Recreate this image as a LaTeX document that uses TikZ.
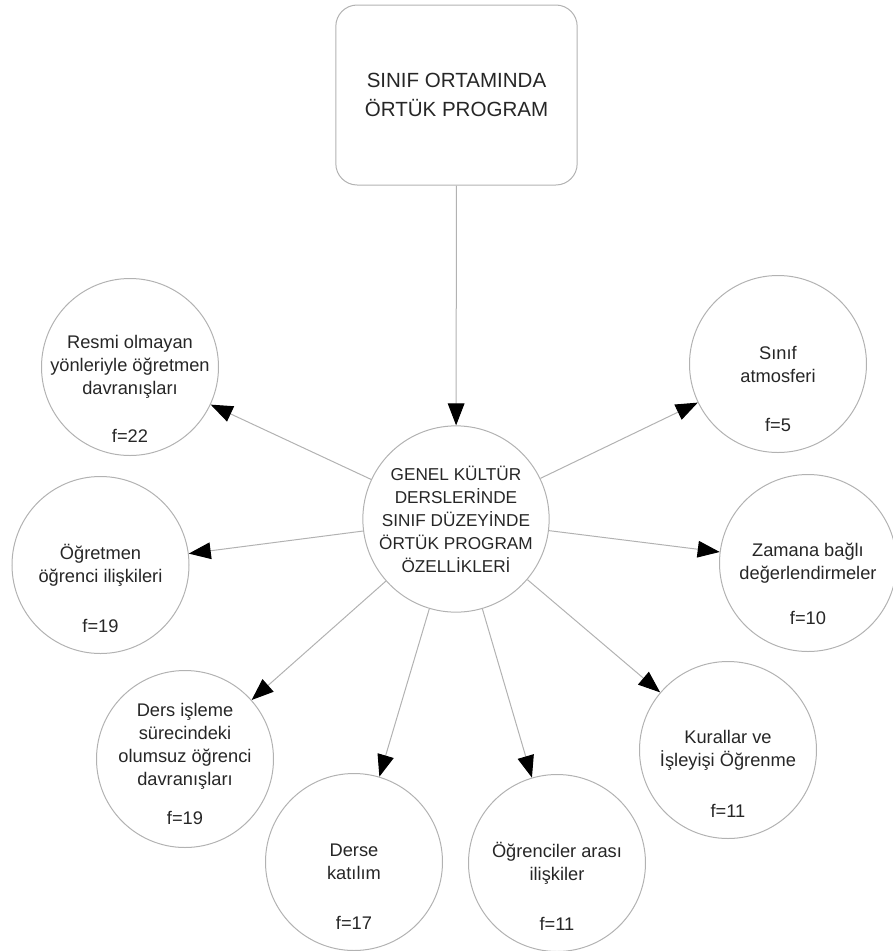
\documentclass[tikz,border=0pt]{standalone}
\usepackage{fontspec}
\setmainfont{Liberation Sans}
\usetikzlibrary{arrows.meta}

\begin{document}
\begin{tikzpicture}
        [
        x=0.75pt, y=-0.75pt,
        line width=0.75pt,
        every node/.style={text=black!85},
        title/.style={draw=gray!60, rectangle, rounded corners=16pt, minimum width=181pt, minimum height=135pt, align=center, font=\fontsize{15.4}{21.75}\selectfont},
        hub/.style={draw=gray!60, circle, minimum size=133.5pt, inner sep=0pt, align=center, font=\fontsize{12.9}{17.25}\selectfont},
        topictext/.style={align=center, font=\fontsize{13.7}{17.25}\selectfont},
        topic/.style={draw=gray!60, circle, minimum size=132.75pt, inner sep=0pt, topictext},
        freq/.style={yshift=-46pt, font=\fontsize{13.7}{17.25}\selectfont},
        arrow/.style={draw=gray!60, -{Triangle[length=16.5pt, width=12.5pt, color=black]}}
        ]

        \useasboundingbox (0,0) rectangle (893,951);

        \node[title] (title) at (456.5,95) {SINIF ORTAMINDA\\ÖRTÜK PROGRAM};

        \node[hub] (hub) at (456,519) {GENEL KÜLTÜR\\DERSLERİNDE\\SINIF DÜZEYİNDE\\ÖRTÜK PROGRAM\\ÖZELLİKLERİ};

        % left side
        \node[topic, label={[freq, yshift=-6pt]center:f=22}] (resmi) at (130,367) {Resmi olmayan\\yönleriyle öğretmen\\davranışları};
        \node[topic, label={[freq]center:f=19}] (ogretmen) at (100.5,565) {Öğretmen\\öğrenci ilişkileri};
        \node[topic, label={[freq, yshift=2pt]center:f=19},
              label={[topictext, yshift=9.75pt]center:{Ders işleme\\sürecindeki\\olumsuz öğrenci\\davranışları}}] (ders) at (185,759) {};
        \node[topic, label={[freq]center:f=17}] (katilim) at (354,862) {Derse\\katılım};

        % right side
        \node[topic, label={[freq]center:f=11}] (arasi) at (557,863) {Öğrenciler arası\\ilişkiler};
        \node[topic, label={[freq]center:f=11}] (kurallar) at (728,750) {Kurallar ve\\İşleyişi Öğrenme};
        \node[topic, label={[freq, yshift=5pt]center:f=10}] (zaman) at (808,563) {Zamana bağlı\\değerlendirmeler};
        \node[topic, label={[freq]center:f=5}] (atmosfer) at (778,364) {Sınıf\\atmosferi};

        \draw[arrow] (title) -- (hub);

        \draw[arrow] (hub) -- (resmi);
        \draw[arrow] (hub) -- (ogretmen);
        \draw[arrow] (hub) -- (ders);
        \draw[arrow] (hub) -- (katilim);
        \draw[arrow] (hub) -- (arasi);
        \draw[arrow] (hub) -- (kurallar);
        \draw[arrow] (hub) -- (zaman);
        \draw[arrow] (hub) -- (atmosfer);

    \end{tikzpicture}
\end{document}
